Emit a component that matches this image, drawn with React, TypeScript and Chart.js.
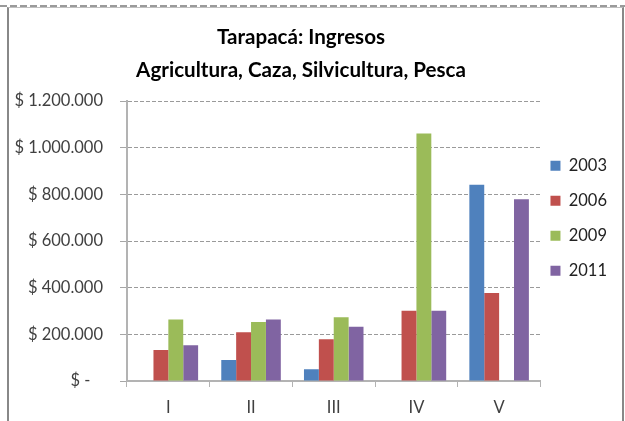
import React, { useEffect, useRef } from "react";
import { Chart, registerables } from "chart.js";

Chart.register(...registerables);

const categories = ["I", "II", "III", "IV", "V"];
const seriesLabels = ["2003", "2006", "2009", "2011"];
const values2003 = [null, 90000, 50000, null, 841000];
const values2006 = [133000, 209000, 179000, 301000, 377000];
const values2009 = [264000, 253000, 273000, 1061000, null];
const values2011 = [153000, 264000, 233000, 301000, 779000];
const seriesColors = ["#4F81BD", "#C0504D", "#9BBB59", "#8064A2"];
const titleLines = ["Tarapacá: Ingresos", "Agricultura, Caza, Silvicultura, Pesca"];
const yMin = 0;
const yMax = 1200000;
const yStep = 200000;

const FONT = "Lato, 'Noto Sans', sans-serif";

function formatPeso(v: number): string {
  if (v === 0) return "$ -   ";
  return "$ " + String(Math.round(v)).replace(/\B(?=(\d{3})+(?!\d))/g, ".");
}

export default function App() {
  const ref = useRef<HTMLCanvasElement | null>(null);

  useEffect(() => {
    if (!ref.current) return;
    const all = [values2003, values2006, values2009, values2011];
    const chart = new Chart(ref.current, {
      type: "bar",
      data: {
        labels: categories,
        datasets: all.map((vals, i) => ({
          label: seriesLabels[i],
          data: vals,
          backgroundColor: seriesColors[i],
          borderWidth: 0,
          barPercentage: 1,
          categoryPercentage: 0.72,
        })),
      },
      options: {
        responsive: false,
        animation: false,
        layout: { padding: { left: -15, top: 24, right: 8, bottom: 0 } },
        plugins: {
          tooltip: { enabled: false },
          title: {
            display: true,
            text: titleLines,
            color: "#000000",
            font: { family: FONT, size: 20.6, weight: "bold", lineHeight: 33 / 20.6 },
            padding: { top: -3.5, bottom: 14.5 },
          },
          legend: {
            display: true,
            position: "right",
            align: "center",
            fullSize: true,
            labels: {
              boxWidth: 10,
              boxHeight: 10,
              padding: 10,
              color: "#222222",
              font: { family: FONT, size: 16.5, lineHeight: 25 / 16.5 },
              generateLabels: (c: any) =>
                (Chart.defaults as any).plugins.legend.labels
                  .generateLabels(c)
                  .map((l: any) => ({ ...l, text: [l.text] })),
            },
          },
        },
        scales: {
          x: {
            type: "category",
            offset: true,
            afterFit: (s: any) => {
              s.height = 40;
            },
            grid: {
              display: true,
              offset: true,
              drawOnChartArea: false,
              drawTicks: true,
              tickLength: 6,
              tickColor: "#b3b3b3",
              color: "#b3b3b3",
            },
            border: { display: true, color: "#b3b3b3", width: 2 },
            ticks: {
              color: "#404040",
              font: { family: FONT, size: 16.5 },
              padding: 11,
              maxRotation: 0,
            },
          },
          y: {
            min: yMin,
            max: yMax,
            afterFit: (s: any) => {
              s.width = 142;
            },
            grid: {
              color: "#9a9a9a",
              lineWidth: 1,
              tickLength: 7,
              tickColor: "#a6a6a6",
              tickBorderDash: [],
            },
            border: { display: true, color: "#b3b3b3", width: 2, dash: [4, 2] },
            ticks: {
              stepSize: yStep,
              color: "#404040",
              font: { family: FONT, size: 16.5 },
              padding: 17,
              callback: (v: any) => formatPeso(Number(v)),
            },
          },
        },
      },
    });
    return () => chart.destroy();
  }, []);

  return (
    <div
      style={{
        position: "fixed",
        left: 0,
        top: 0,
        width: 625,
        height: 421,
        background: "#ffffff",
        overflow: "hidden",
      }}
    >
      <div
        style={{
          position: "absolute",
          left: 0,
          top: 5,
          width: 625,
          height: 2,
          background:
            "repeating-linear-gradient(90deg, #9a9a9a 0px, #9a9a9a 7px, transparent 7px, transparent 10px)",
        }}
      />
      <div
        style={{
          position: "absolute",
          left: 7,
          top: 7,
          width: 617,
          height: 440,
          boxSizing: "border-box",
          borderLeft: "2px solid #888888",
          borderRight: "2px solid #888888",
          borderTop: "1px solid #c0c0c0",
        }}
      />
      <canvas
        ref={ref}
        width={625}
        height={421}
        style={{ position: "absolute", left: 0, top: 0, width: 625, height: 421 }}
      />
    </div>
  );
}
